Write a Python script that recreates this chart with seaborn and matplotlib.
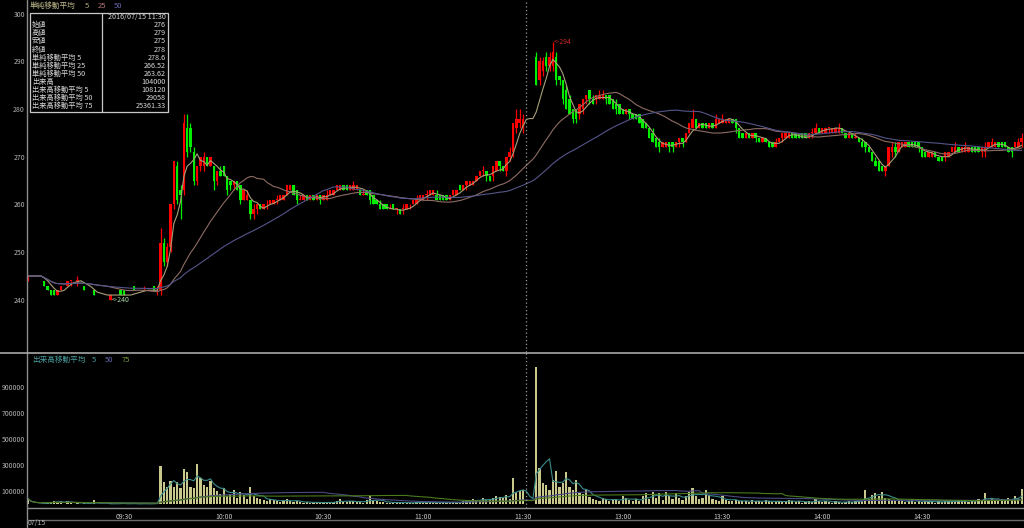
import numpy as np
import pandas as pd
import matplotlib.pyplot as plt
from matplotlib.lines import Line2D
from matplotlib.patches import Rectangle
import seaborn as sns

nan = np.nan

# 1-minute bars, bar 1..150 = 09:01..11:30, bar 151..300 = 12:31..15:00
opens = [
    244, nan, nan, nan, nan, 244, 243, 242, 242, 241,
    242, nan, 243, 244, nan, 244, nan, 243, nan, nan,
    242, nan, nan, nan, nan, 240, nan, nan, 242, 242,
    nan, nan, 243, nan, nan, 242, nan, nan, 243, 242,
    242, 252, 248, 251, 260, 268, 263, 263, 276, 276,
    271, 265, 268, 268, 270, 268, 268, 265, 267, 268,
    266, 265, 264, 265, 264, 261, 261, 261, 258, 259,
    260, 259, 260, 260, 260, 261, 261, 261, 262, 263,
    264, 263, 261, 261, 262, 261, 262, 261, 262, 261,
    261, 262, 262, 263, 263, 264, 264, 263, 263, 263,
    263, 262, 263, 263, 262, 261, 260, 260, 260, 259,
    260, 259, 259, 259, 259, 260, 260, 260, 261, 261,
    262, 262, 262, 262, 262, 262, 262, 261, 262, 262,
    264, 263, 264, 264, 264, 265, 266, 267, 267, 266,
    266, 267, 269, 268, 267, 270, 271, 276, 277, 276,
    nan, nan, nan, 291, 286, 288, 291, 289, 289, 291,
    287, 286, 284, 282, 280, 280, 279, 280, 282, 284,
    282, 282, 282, 282, 283, 283, 282, 281, 281, 280,
    279, 280, 279, 279, 279, 278, 277, 276, 275, 274,
    273, 272, 272, 273, 273, 272, 273, 274, 273, 275,
    276, 278, 276, 277, 277, 276, 277, 276, 277, 277,
    277, 277, 278, 278, 276, 275, 274, 275, 274, 275,
    274, 273, 274, 273, 273, 272, 273, 274, 274, 274,
    275, 275, 275, 275, 275, 274, 275, 275, 276, 275,
    275, 276, 275, 275, 275, 276, 275, 274, 275, 274,
    274, 273, 273, 272, 271, 269, 269, 268, 267, 268,
    271, 272, 271, 272, 272, 273, 273, 273, 273, 272,
    271, 270, 270, 271, 270, 270, 270, 270, 271, 271,
    272, 271, 271, 271, 272, 272, 272, 271, 271, 272,
    272, 272, 273, 273, 273, 272, 272, 272, 272, 273,
]
highs = [
    245, nan, nan, nan, nan, 244, 243, 242, 242, 242,
    243, nan, 244, 244, nan, 245, nan, 243, nan, nan,
    242, nan, nan, nan, nan, 241, nan, nan, 242, 242,
    nan, nan, 243, nan, nan, 243, nan, nan, 243, 243,
    255, 253, 252, 260, 269, 269, 264, 279, 279, 277,
    272, 268, 270, 271, 270, 270, 268, 267, 268, 268,
    266, 265, 265, 265, 264, 263, 263, 261, 260, 260,
    260, 260, 261, 261, 261, 262, 262, 262, 264, 264,
    264, 263, 262, 262, 262, 262, 262, 262, 262, 262,
    263, 263, 263, 264, 264, 264, 264, 264, 265, 264,
    263, 263, 263, 263, 262, 261, 261, 260, 260, 260,
    260, 259, 259, 260, 260, 260, 261, 262, 262, 262,
    263, 263, 263, 263, 262, 262, 262, 262, 263, 263,
    264, 264, 265, 265, 265, 266, 267, 268, 267, 266,
    268, 269, 269, 268, 270, 272, 277, 280, 280, 279,
    nan, nan, nan, 292, 291, 291, 292, 292, 294, 292,
    287, 286, 285, 283, 280, 280, 281, 282, 283, 284,
    283, 283, 284, 284, 283, 283, 282, 282, 281, 280,
    280, 280, 279, 279, 279, 278, 277, 276, 276, 274,
    274, 273, 273, 273, 273, 273, 274, 274, 275, 277,
    280, 278, 277, 277, 277, 277, 277, 279, 278, 279,
    278, 278, 278, 278, 276, 275, 275, 275, 275, 275,
    274, 274, 274, 273, 273, 274, 274, 275, 275, 275,
    275, 275, 275, 275, 275, 275, 276, 277, 276, 276,
    276, 276, 276, 276, 277, 276, 275, 275, 275, 275,
    274, 274, 273, 272, 271, 270, 269, 268, 268, 272,
    273, 273, 273, 273, 273, 273, 273, 273, 273, 272,
    271, 271, 271, 271, 270, 270, 271, 271, 272, 273,
    272, 272, 273, 272, 272, 272, 272, 272, 273, 273,
    274, 273, 273, 273, 273, 272, 272, 273, 274, 275,
]
lows = [
    244, nan, nan, nan, nan, 243, 242, 241, 241, 241,
    242, nan, 243, 243, nan, 243, nan, 242, nan, nan,
    241, nan, nan, nan, nan, 240, nan, nan, 241, 241,
    nan, nan, 242, nan, nan, 242, nan, nan, 242, 241,
    241, 247, 247, 250, 259, 260, 257, 262, 270, 271,
    264, 264, 267, 267, 268, 268, 263, 264, 266, 266,
    262, 263, 263, 263, 260, 261, 261, 257, 257, 258,
    259, 259, 259, 260, 260, 260, 261, 261, 262, 263,
    262, 260, 261, 261, 261, 261, 261, 261, 260, 261,
    261, 262, 262, 263, 263, 263, 263, 263, 263, 263,
    262, 262, 262, 260, 260, 260, 259, 259, 259, 259,
    259, 258, 258, 258, 259, 259, 260, 260, 261, 261,
    261, 262, 262, 261, 261, 261, 261, 261, 262, 262,
    263, 263, 263, 264, 264, 265, 266, 266, 265, 265,
    265, 267, 267, 267, 266, 269, 270, 275, 276, 275,
    nan, nan, nan, 285, 285, 287, 288, 288, 288, 285,
    285, 281, 280, 279, 277, 277, 278, 279, 281, 281,
    281, 281, 282, 282, 281, 281, 280, 279, 279, 279,
    279, 278, 278, 278, 277, 276, 276, 274, 273, 272,
    271, 272, 272, 271, 271, 272, 272, 272, 273, 275,
    276, 276, 276, 276, 276, 276, 276, 276, 277, 277,
    277, 277, 277, 275, 274, 274, 274, 274, 274, 273,
    273, 273, 273, 272, 272, 272, 273, 273, 274, 274,
    274, 274, 274, 274, 274, 274, 274, 275, 275, 275,
    275, 275, 275, 275, 275, 275, 274, 274, 274, 274,
    273, 272, 271, 271, 269, 268, 267, 267, 266, 268,
    270, 270, 271, 272, 272, 272, 272, 272, 271, 270,
    270, 270, 270, 270, 269, 269, 269, 270, 271, 271,
    271, 271, 271, 271, 271, 271, 271, 270, 270, 272,
    272, 272, 272, 272, 272, 271, 270, 272, 272, 272,
]
closes = [
    245, nan, nan, nan, nan, 243, 242, 241, 241, 242,
    243, nan, 244, 244, nan, 244, nan, 242, nan, nan,
    241, nan, nan, nan, nan, 241, nan, nan, 241, 241,
    nan, nan, 242, nan, nan, 242, nan, nan, 242, 242,
    252, 248, 251, 260, 269, 261, 262, 277, 271, 272,
    265, 268, 270, 270, 268, 270, 265, 267, 266, 266,
    263, 264, 265, 263, 261, 263, 262, 258, 259, 260,
    259, 260, 260, 261, 261, 261, 262, 262, 264, 264,
    262, 261, 261, 262, 261, 262, 261, 262, 261, 262,
    262, 263, 263, 264, 264, 263, 263, 264, 264, 264,
    262, 262, 262, 261, 260, 260, 259, 259, 259, 259,
    259, 259, 258, 259, 260, 260, 261, 261, 262, 262,
    262, 263, 263, 261, 261, 261, 261, 262, 263, 263,
    263, 264, 265, 265, 265, 266, 267, 267, 266, 265,
    268, 269, 268, 267, 270, 271, 277, 278, 278, 278,
    nan, nan, nan, 285, 290, 290, 289, 291, 292, 286,
    286, 282, 280, 279, 278, 278, 281, 282, 283, 282,
    281, 283, 283, 283, 282, 281, 280, 280, 279, 279,
    280, 279, 278, 278, 277, 276, 276, 274, 273, 272,
    272, 273, 273, 272, 272, 273, 274, 273, 275, 277,
    278, 276, 277, 276, 276, 277, 276, 278, 278, 278,
    278, 278, 277, 276, 274, 274, 275, 274, 275, 274,
    273, 274, 273, 272, 272, 273, 274, 275, 275, 275,
    274, 274, 274, 274, 274, 275, 275, 276, 275, 276,
    276, 276, 276, 276, 276, 275, 274, 275, 274, 274,
    273, 272, 272, 271, 269, 268, 267, 267, 268, 272,
    272, 271, 273, 273, 273, 272, 272, 272, 272, 270,
    270, 271, 271, 270, 269, 269, 271, 271, 272, 272,
    271, 272, 272, 272, 271, 271, 271, 272, 272, 273,
    273, 273, 272, 272, 272, 271, 271, 273, 273, 274,
]
# volume in thousands of shares
volume_k = [
    44, 0, 0, 0, 0, 18, 15, 10, 20, 15,
    25, 0, 20, 15, 0, 10, 0, 10, 0, 0,
    31, 0, 0, 0, 0, 10, 0, 0, 5, 5,
    0, 0, 5, 0, 0, 5, 0, 0, 5, 5,
    290, 170, 130, 180, 130, 170, 120, 270, 250, 130,
    120, 310, 200, 150, 130, 180, 120, 100, 80, 120,
    60, 80, 110, 50, 90, 70, 40, 130, 60, 50,
    40, 30, 20, 40, 30, 20, 15, 30, 40, 20,
    15, 20, 15, 10, 15, 10, 10, 15, 10, 10,
    15, 10, 15, 25, 35, 15, 15, 20, 25, 15,
    15, 10, 30, 60, 20, 25, 15, 15, 10, 10,
    8, 15, 10, 8, 10, 8, 8, 15, 20, 10,
    8, 15, 10, 8, 10, 15, 8, 10, 15, 8,
    10, 25, 20, 30, 35, 25, 30, 45, 30, 40,
    45, 60, 56, 50, 70, 40, 200, 95, 102, 104,
    0, 0, 0, 1050, 274, 159, 146, 108, 185, 256,
    133, 159, 249, 133, 108, 185, 82, 77, 108, 56,
    40, 30, 25, 50, 35, 20, 40, 30, 25, 60,
    45, 30, 25, 35, 20, 60, 85, 40, 90, 50,
    85, 30, 90, 60, 40, 85, 50, 30, 60, 90,
    120, 60, 40, 50, 110, 70, 40, 30, 25, 60,
    30, 20, 25, 30, 20, 20, 25, 15, 30, 20,
    25, 15, 30, 20, 15, 20, 25, 15, 20, 30,
    25, 15, 20, 10, 15, 20, 15, 40, 25, 15,
    20, 15, 10, 20, 15, 10, 15, 20, 15, 25,
    30, 20, 110, 40, 70, 85, 60, 90, 50, 40,
    30, 25, 20, 30, 15, 20, 40, 15, 20, 15,
    20, 25, 15, 10, 20, 15, 25, 20, 15, 20,
    30, 20, 25, 15, 30, 20, 40, 25, 85, 30,
    35, 20, 25, 40, 30, 45, 30, 60, 50, 115,
]

bar_no = list(range(1, 301))
time_ticks = [30, 60, 90, 120, 150, 180, 210, 240, 270]
time_labels = ['09:30', '10:00', '10:30', '11:00', '11:30', '13:00', '13:30', '14:00', '14:30']
price_ticks = [240, 250, 260, 270, 280, 290, 300]
vol_ticks = [100000, 300000, 500000, 700000, 900000]
cursor_bar = 150

info_labels = ['', '始値', '高値', '安値', '終値', '単純移動平均 5', '単純移動平均 25',
               '単純移動平均 50', '出来高', '出来高移動平均 5', '出来高移動平均 50',
               '出来高移動平均 75']
info_values = ['2016/07/15 11:30', '276', '279', '275', '278', '278.6', '266.52',
               '263.62', '104000', '108120', '29058', '25361.33']

RED, GREEN = '#ff0000', '#00ee00'
GREY = '#b4b4b4'
LINE = '#8c8c8c'

sns.set_theme(style='dark', rc={'axes.facecolor': 'black', 'figure.facecolor': 'black'})
plt.rcParams['font.family'] = ['Noto Sans CJK JP', 'DejaVu Sans']

df = pd.DataFrame({'bar': bar_no, 'open': opens, 'high': highs, 'low': lows,
                   'close': closes, 'volume': np.array(volume_k) * 1000})
c = df['close'].ffill()
for n in (5, 25, 50):
    df[f'ma{n}'] = c.rolling(n, min_periods=1).mean()
for n in (5, 50, 75):
    df[f'vma{n}'] = df['volume'].rolling(n, min_periods=1).mean()

W, H = 1024, 528
fig = plt.figure(figsize=(W / 100, H / 100), dpi=100)
fig.patch.set_facecolor('black')


def fx(x):
    return x / W


def fy(y):
    return 1 - y / H


ax = fig.add_axes([fx(27), fy(352), fx(1024) - fx(27), fy(0) - fy(352)])
axv = fig.add_axes([fx(27), fy(508), fx(1024) - fx(27), fy(353) - fy(508)])

# candles
traded = df['open'].notna()
up = traded & (df['close'] >= df['open'])
down = traded & (df['close'] < df['open'])
for mask, col in [(up, RED), (down, GREEN)]:
    d = df[mask]
    ax.vlines(d['bar'], d['low'], d['high'], color=col, lw=0.9, zorder=3)
    body = (d['close'] - d['open']).abs().clip(lower=0.15)
    ax.bar(d['bar'], body, bottom=d[['open', 'close']].min(axis=1), width=0.72,
           color=col, linewidth=0, zorder=4)

for n, col in [(5, '#a8a078'), (25, '#8e6c64'), (50, '#55558a')]:
    sns.lineplot(data=df, x='bar', y=f'ma{n}', ax=ax, color=col, lw=0.8, zorder=5)

# volume
axv.bar(df['bar'], df['volume'], width=0.65, color='#c8c88c', linewidth=0, zorder=3)
for n, col in [(5, '#3a8c8c'), (50, '#4a4a84'), (75, '#4a7a1c')]:
    sns.lineplot(data=df, x='bar', y=f'vma{n}', ax=axv, color=col, lw=0.8, zorder=5)

for a in (ax, axv):
    a.set_facecolor('black')
    a.grid(False)
    for s in a.spines.values():
        s.set_visible(False)
    a.set_xlim(0.83, 300.7)
    a.set_xlabel('')
    a.set_ylabel('')
    a.axvline(cursor_bar + 0.9, color='#9a9a9a', lw=0.9, ls=(0, (1, 2)), zorder=6)

ax.set_ylim(229.06, 302.85)
ax.set_yticks(price_ticks)
ax.set_yticklabels([str(p) for p in price_ticks])
ax.set_xticks([])
ax.tick_params(axis='y', length=0, pad=1.5, labelsize=5, labelcolor=GREY)

axv.set_ylim(-30769, 1161538)
axv.set_yticks(vol_ticks)
axv.set_yticklabels([str(v) for v in vol_ticks])
axv.set_xticks(time_ticks)
axv.set_xticklabels(time_labels)
axv.tick_params(axis='y', length=0, pad=1.5, labelsize=5, labelcolor=GREY)
axv.tick_params(axis='x', length=2, width=0.8, color=GREY, pad=1.5, labelsize=5,
                labelcolor='#c8c8c8')

# high / low markers
ih = df['high'].idxmax()
il = df['low'].idxmin()
ax.text(df.loc[ih, 'bar'] + 0.3, df.loc[ih, 'high'], f"<-{int(df.loc[ih, 'high'])}",
        color='#d02828', fontsize=5, va='center', ha='left', zorder=7)
ax.text(df.loc[il, 'bar'] + 0.3, df.loc[il, 'low'], f"<-{int(df.loc[il, 'low'])}",
        color='#a8d8a8', fontsize=5, va='center', ha='left', zorder=7)

# frame lines
fig.add_artist(Line2D([fx(27), fx(27)], [0, 1], color=LINE, lw=1))
fig.add_artist(Line2D([0, 1], [fy(352.5), fy(352.5)], color='#a8a8a8', lw=1.2))
fig.add_artist(Line2D([fx(27), 1], [fy(508), fy(508)], color=LINE, lw=1))
fig.add_artist(Line2D([fx(27), 1], [fy(519.5), fy(519.5)], color='#6a6a6a', lw=1))
fig.text(fx(28), fy(523.5), '07/15', color=GREY, fontsize=5, va='center', ha='left')

# legends
fig.text(fx(30), fy(6), '単純移動平均', color='#c0bc8c', fontsize=5.5, va='center')
fig.text(fx(85), fy(6), '5', color='#b0aa78', fontsize=5.5, va='center')
fig.text(fx(98), fy(6), '25', color='#b47878', fontsize=5.5, va='center')
fig.text(fx(114), fy(6), '50', color='#6a6ab4', fontsize=5.5, va='center')
fig.text(fx(32), fy(359.5), '出来高移動平均', color='#4a9c9c', fontsize=5.5, va='center')
fig.text(fx(92), fy(359.5), '5', color='#4a9c9c', fontsize=5.5, va='center')
fig.text(fx(105), fy(359.5), '50', color='#6a6ab4', fontsize=5.5, va='center')
fig.text(fx(122), fy(359.5), '75', color='#7a9c3a', fontsize=5.5, va='center')

# info box
fig.add_artist(Rectangle((fx(30), fy(112)), fx(168) - fx(30), fy(13) - fy(112),
                         transform=fig.transFigure, facecolor='black',
                         edgecolor='#c8c8c8', lw=0.9, zorder=8))
fig.add_artist(Line2D([fx(101.5), fx(101.5)], [fy(13), fy(112)], color='#c8c8c8',
                      lw=0.9, zorder=9))
for k, (lab, val) in enumerate(zip(info_labels, info_values)):
    yk = fy(17.3 + 8.05 * k)
    fig.text(fx(32), yk, lab, color='#d8d8d8', fontsize=5.2, va='center', ha='left', zorder=10)
    fig.text(fx(166), yk, val, color='#d8d8d8', fontsize=5.2, va='center', ha='right', zorder=10)

fig.savefig('out.png', dpi=100, facecolor='black')
